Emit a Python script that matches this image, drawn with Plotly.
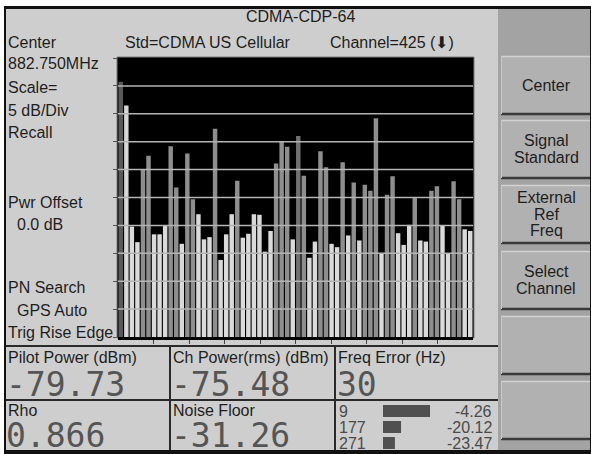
import plotly.graph_objects as go

W, H = 591, 454

# ---- data ----
code_index = list(range(64))
code_power_db = [-4.26, -8.5, -30.2, -33.0, -20.0, -17.5, -31.6, -31.6, -30.0, -15.8,
                 -23.2, -33.3, -17.1, -25.3, -28.0, -32.5, -32.1, -12.7, -36.2, -31.6,
                 -28.0, -22.0, -32.2, -31.5, -28.0, -28.1, -34.7, -31.0, -18.9, -14.9,
                 -15.9, -32.5, -14.0, -21.1, -35.8, -32.9, -16.7, -19.6, -33.3, -33.9,
                 -18.7, -31.8, -22.3, -32.7, -22.7, -23.8, -10.8, -35.1, -24.5, -21.2,
                 -31.4, -33.5, -29.9, -25.1, -32.7, -32.9, -23.8, -23.0, -30.1, -35.1,
                 -22.1, -25.3, -30.7, -31.0]
code_type = ["pilot", "paging", "idle", "idle", "traffic", "traffic", "idle", "idle", "idle", "traffic",
             "traffic", "idle", "traffic", "traffic", "idle", "idle", "idle", "traffic", "idle", "idle",
             "idle", "traffic", "idle", "idle", "idle", "idle", "idle", "idle", "traffic", "traffic",
             "traffic", "idle", "sync", "traffic", "idle", "idle", "traffic", "traffic", "idle", "idle",
             "traffic", "idle", "traffic", "idle", "traffic", "traffic", "traffic", "idle", "traffic", "traffic",
             "idle", "idle", "idle", "traffic", "idle", "idle", "traffic", "traffic", "idle", "idle",
             "traffic", "traffic", "idle", "idle"]
type_color = {"pilot": "#5a5a5a", "sync": "#717171", "traffic": "#8e8e8e",
              "paging": "#d6d6d6", "idle": "#dadada"}

ref_level_db = 0
scale_db_per_div = 5
n_div = 10

pn_offsets = ["9", "177", "271"]
pn_power_db = [-4.26, -20.12, -23.47]
pn_bar_floor = -30

pilot_power = "-79.73"
ch_power = "-75.48"
freq_error = "30"
rho = "0.866"
noise_floor = "-31.26"

softkeys = [["Center"], ["Signal", "Standard"], ["External", "Ref", "Freq"], ["Select", "Channel"], [], []]

# ---- helpers (pixel -> paper) ----
def px(x):
    return x / W

def py(y):
    return 1 - y / H

bottom_db = ref_level_db - scale_db_per_div * n_div

fig = go.Figure()

fig.add_trace(go.Bar(
    x=code_index,
    y=[v - bottom_db for v in code_power_db],
    base=bottom_db,
    width=0.8,
    marker=dict(color=[type_color[t] for t in code_type], line=dict(width=0)),
    xaxis="x", yaxis="y", showlegend=False, hoverinfo="skip"))

fig.add_trace(go.Bar(
    y=pn_offsets,
    x=[v - pn_bar_floor for v in pn_power_db],
    base=pn_bar_floor,
    orientation="h",
    width=0.75,
    marker=dict(color="#505050", line=dict(width=0)),
    xaxis="x2", yaxis="y2", showlegend=False, hoverinfo="skip"))

shapes = []
def rect(x0, y0, x1, y1, fill, line_color=None, lw=0, layer="below"):
    shapes.append(dict(type="rect", xref="paper", yref="paper",
                       x0=px(x0), x1=px(x1), y0=py(y1), y1=py(y0),
                       fillcolor=fill, line=dict(color=line_color or fill, width=lw),
                       layer=layer))

def hline(x0, x1, y, color, lw, layer="below"):
    shapes.append(dict(type="line", xref="paper", yref="paper",
                       x0=px(x0), x1=px(x1), y0=py(y), y1=py(y),
                       line=dict(color=color, width=lw), layer=layer))

def vline(x, y0, y1, color, lw, layer="below"):
    shapes.append(dict(type="line", xref="paper", yref="paper",
                       x0=px(x), x1=px(x), y0=py(y0), y1=py(y1),
                       line=dict(color=color, width=lw), layer=layer))

# bezel
rect(4, 6, 591, 454, "#111111")
# main panel
rect(6, 9, 498, 450, "#cecece")
# right softkey column
rect(498, 9, 590, 450, "#a3a3a3")
# buttons
btn_top = [56, 120, 185, 251, 316, 381]
for t in btn_top:
    rect(501, t, 590, t + 58, "#b1b1b1")
    hline(501, 590, t + 0.5, "#d2d2d2", 1.5)
    hline(501, 590, t + 58, "#3a3a3a", 2.5)
    vline(501.5, t, t + 58, "#c8c8c8", 1)

# plot frame (black area)
rect(117, 57, 474, 338, "#000000", "#7a7a7a", 1)

# bottom panel separators
hline(6, 498, 346, "#2a2a2a", 2)
hline(6, 498, 400, "#2a2a2a", 2)
vline(170, 346, 450, "#2a2a2a", 2)
vline(335, 346, 450, "#2a2a2a", 2)

# gridlines above the bars
for k in range(1, n_div):
    g = ref_level_db - k * scale_db_per_div
    shapes.append(dict(type="line", xref="x domain", yref="y", x0=0, x1=1, y0=g, y1=g,
                       line=dict(color="#b4b4b4", width=1.5), layer="above"))

ann = []
LBL = 16
def text(x, y, s, size=LBL, color="#1e1e1e", xanchor="left", family="Liberation Sans, Arial, sans-serif"):
    ann.append(dict(x=px(x), y=py(y), xref="paper", yref="paper", text=s, showarrow=False,
                    xanchor=xanchor, yanchor="middle",
                    font=dict(size=size, color=color, family=family)))

text(300, 17, "CDMA-CDP-64", xanchor="center")
text(6, 42, "Center")
text(123, 42, "Std=CDMA US Cellular")
text(328, 42, "Channel=425 (⬇)")
left_labels = [(6, 64, "882.750MHz"), (6, 87, "Scale="), (6, 110, "5 dB/Div"), (6, 132, "Recall"),
               (6, 202, "Pwr Offset"), (15, 225, "0.0 dB"), (6, 287, "PN Search"),
               (15, 310, "GPS Auto"), (6, 332, "Trig Rise Edge")]
for x, y, s in left_labels:
    text(x, y, s)

text(6, 357, "Pilot Power (dBm)")
text(171, 357, "Ch Power(rms) (dBm)")
text(336, 357, "Freq Error (Hz)")
text(6, 410, "Rho")
text(171, 410, "Noise Floor")

mono = "DejaVu Sans Mono, monospace"
big = 33
num_color = "#555555"
text(4, 384, pilot_power, size=big, color=num_color, family=mono)
text(169, 384, ch_power, size=big, color=num_color, family=mono)
text(335, 384, freq_error, size=big, color=num_color, family=mono)
text(4, 435, rho, size=big, color=num_color, family=mono)
text(169, 435, noise_floor, size=big, color=num_color, family=mono)

row_y = [411, 427, 443]
for s, v, yy in zip(pn_offsets, pn_power_db, row_y):
    text(337, yy, s, color="#4a4a4a")
    text(494, yy, f"{v:.2f}", color="#4a4a4a", xanchor="right")

for t, lines in zip(btn_top, softkeys):
    if not lines:
        continue
    step = 16.5
    mid = t + 29
    start = mid - step * (len(lines) - 1) / 2
    for i, s in enumerate(lines):
        text(546, start + i * step, s, xanchor="center")

tick_pos = [-0.5 + 6.4 * k for k in range(1, 10)]

fig.update_layout(
    width=W, height=H, margin=dict(l=0, r=0, t=0, b=0),
    paper_bgcolor="#ffffff", plot_bgcolor="rgba(0,0,0,0)",
    shapes=shapes, annotations=ann,
    xaxis=dict(domain=[px(118), px(473)], range=[-0.5, 63.5], showgrid=False, zeroline=False,
               showticklabels=False, ticks="outside", tickvals=tick_pos, ticklen=4,
               tickcolor="#444", tickwidth=1, showline=True, linecolor="#000", linewidth=3),
    yaxis=dict(domain=[py(337), py(58)], range=[bottom_db, ref_level_db], showgrid=False,
               zeroline=False, showticklabels=False, ticks="outside", ticklen=4,
               tickcolor="#555", dtick=scale_db_per_div, tick0=0, showline=False),
    xaxis2=dict(domain=[px(383), px(383 + 54.8)], range=[pn_bar_floor, 0], visible=False,
                anchor="y2"),
    yaxis2=dict(domain=[py(451), py(403)], range=[2.5, -0.5], type="category", visible=False,
                anchor="x2"),
)

fig.write_html("out.html", config={"displayModeBar": False},
               post_script="document.body.style.margin='0';document.body.style.overflow='hidden';")
